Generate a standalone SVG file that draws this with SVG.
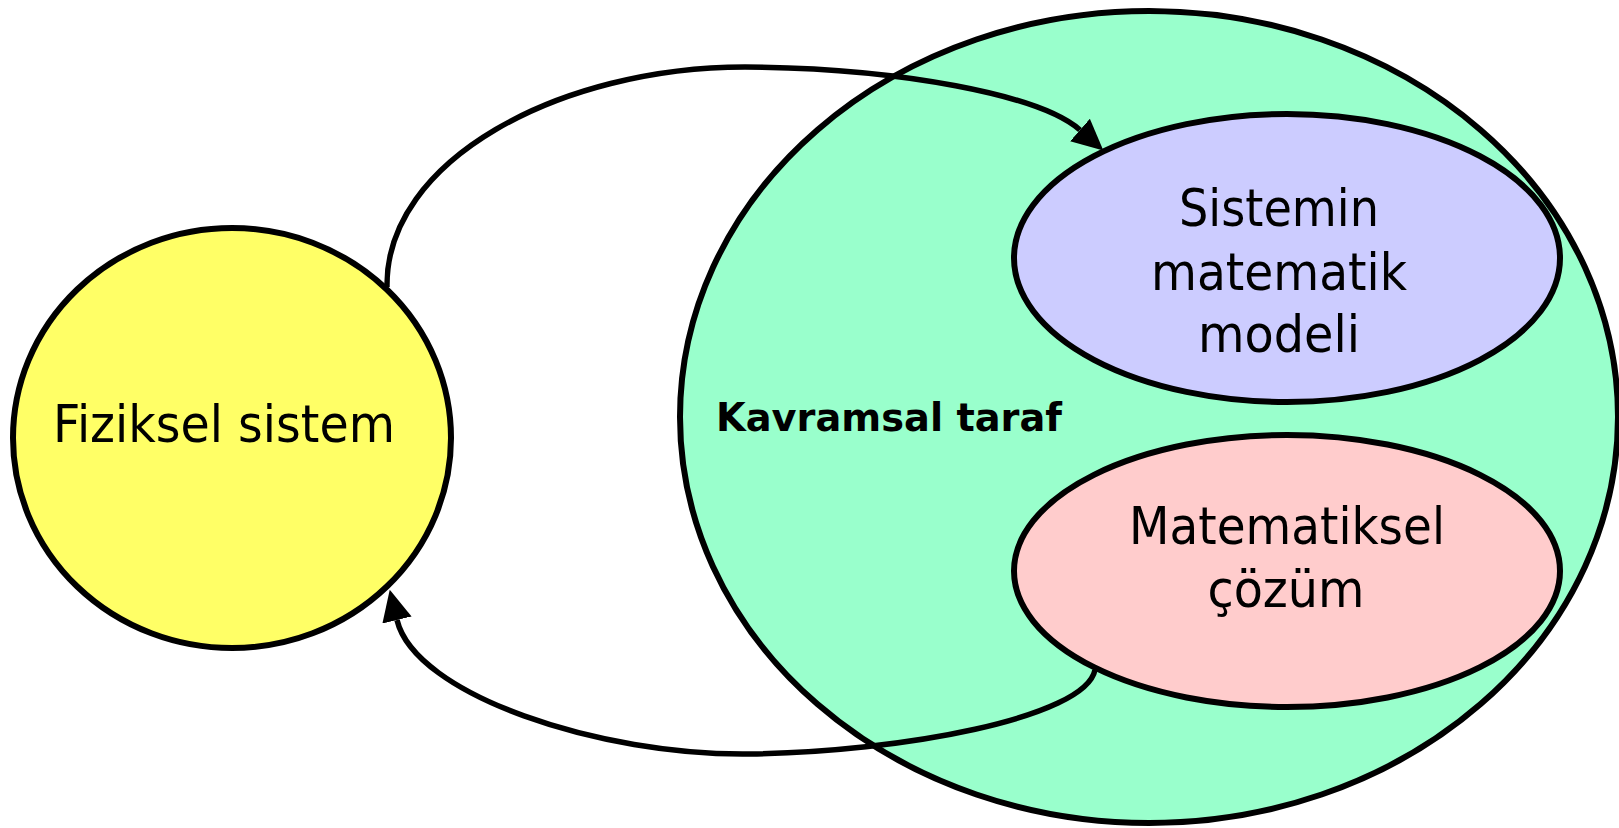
<svg xmlns="http://www.w3.org/2000/svg" width="1619" height="828" viewBox="0 0 1619 828">
<style>
.shape{stroke:#000;stroke-width:6}
.lbl{font-family:"DejaVu Sans","Liberation Sans",sans-serif;font-size:51px;fill:#000;text-anchor:middle}
.bold{font-family:"DejaVu Sans","Liberation Sans",sans-serif;font-size:39px;font-weight:bold;fill:#000}
.conn{fill:none;stroke:#000;stroke-width:5.5}
</style>
<defs>
<marker id="arr" markerUnits="userSpaceOnUse" markerWidth="32" markerHeight="32" viewBox="0 -16 32 32" refX="0" refY="0" orient="auto">
<path d="M0,-15 L31,0 L0,15 z" fill="#000"/>
</marker>
</defs>
<rect width="1619" height="828" fill="#fff"/>
<g id="fiziksel">
<ellipse class="shape" cx="232" cy="438" rx="219" ry="210" fill="#FFFF66"/>
<text class="lbl" x="224" y="442" textLength="342" lengthAdjust="spacingAndGlyphs">Fiziksel sistem</text>
</g>
<g id="kavramsal">
<ellipse class="shape" cx="1149" cy="417" rx="469" ry="406" fill="#99FFCC"/>
<text class="bold" x="716" y="431" textLength="346" lengthAdjust="spacingAndGlyphs">Kavramsal taraf</text>
</g>
<g id="model">
<ellipse class="shape" cx="1287" cy="258" rx="273" ry="144" fill="#CCCCFF"/>
<text class="lbl" x="1279" y="226" textLength="200" lengthAdjust="spacingAndGlyphs">Sistemin</text>
<text class="lbl" x="1279" y="290" textLength="256" lengthAdjust="spacingAndGlyphs">matematik</text>
<text class="lbl" x="1279" y="352" textLength="162" lengthAdjust="spacingAndGlyphs">modeli</text>
</g>
<g id="cozum">
<ellipse class="shape" cx="1287" cy="571" rx="273" ry="136" fill="#FFCCCC"/>
<text class="lbl" x="1287" y="544" textLength="316" lengthAdjust="spacingAndGlyphs">Matematiksel</text>
<text class="lbl" x="1286" y="607" textLength="157" lengthAdjust="spacingAndGlyphs">çözüm</text>
</g>
<g id="connectors">
<path class="conn" d="M387,287 C385,160 560,67 745,67 C900,68 1040,95 1080,130" marker-end="url(#arr)"/>
<path class="conn" d="M1095,670 C1085,718 900,752 750,754 C600,756 415,695 397,620" marker-end="url(#arr)"/>
</g>
</svg>
